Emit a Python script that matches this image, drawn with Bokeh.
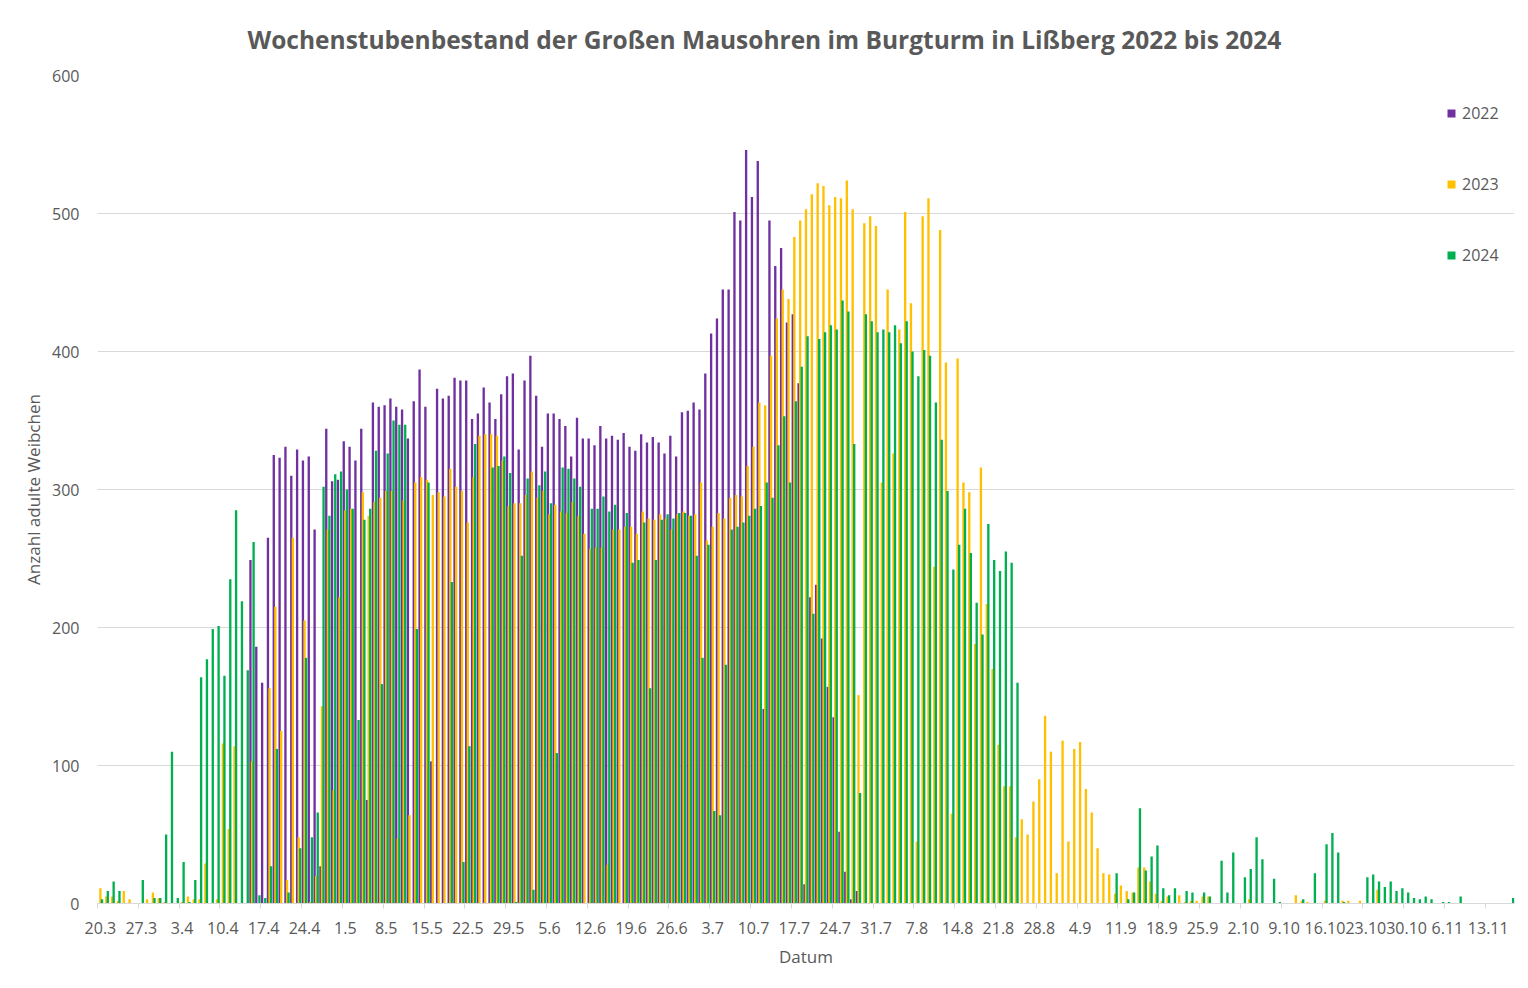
from bokeh.plotting import figure
from bokeh.models import (ColumnDataSource, Range1d, FixedTicker, Legend, LegendItem, Title)
from bokeh.embed import file_html
from bokeh.resources import INLINE

# ---------------- data (day index 0 = 20.3, one value per day) ----------------
tick_labels = ["20.3", "27.3", "3.4", "10.4", "17.4", "24.4", "1.5", "8.5", "15.5",
               "22.5", "29.5", "5.6", "12.6", "19.6", "26.6", "3.7", "10.7", "17.7",
               "24.7", "31.7", "7.8", "14.8", "21.8", "28.8", "4.9", "11.9", "18.9",
               "25.9", "2.10", "9.10", "16.10", "23.10", "30.10", "6.11", "13.11"]

n_days = 243

y2022 = [0] * 26 + [
    249, 186, 160, 265, 325, 323, 331, 310, 329, 321, 324, 271, 27, 344, 306, 307,
    335, 331, 321, 344, 75, 363, 360, 361, 366, 360, 358, 337, 364, 387, 360, 103,
    373, 366, 368, 381, 379, 379, 351, 355, 374, 363, 351, 369, 382, 384, 329, 379,
    397, 368, 331, 355, 355, 351, 346, 324, 352, 337, 337, 332, 346, 337, 339, 336,
    341, 331, 328, 340, 334, 338, 334, 326, 339, 324, 356, 357, 363, 358, 384, 413,
    424, 445, 445, 501, 495, 546, 512, 538, 141, 495, 462, 475, 421, 427, 377, 14,
    222, 231, 192, 157, 135, 52, 23, 3, 9] + [0] * 112

y2023 = [
    11, 5, 5, 2, 9, 3, 0, 0, 3, 8, 4, 1, 0, 0, 1, 5, 3, 3, 29, 0,
    3, 116, 54, 114, 0, 0, 103, 0, 0, 156, 215, 125, 17, 265, 48, 205, 1, 20, 143, 271,
    82, 222, 285, 286, 75, 298, 281, 291, 294, 299, 299, 47, 292, 64, 305, 309, 307, 296, 298, 295,
    315, 302, 299, 276, 309, 339, 340, 340, 339, 321, 288, 290, 290, 296, 313, 294, 299, 282, 289, 284,
    283, 291, 281, 268, 257, 258, 258, 28, 271, 271, 273, 273, 268, 284, 279, 278, 282, 279, 271, 282,
    284, 281, 282, 305, 263, 273, 283, 279, 294, 296, 295, 317, 331, 363, 361, 397, 424, 445, 438, 483,
    495, 503, 514, 522, 520, 506, 512, 511, 524, 503, 151, 493, 498, 491, 305, 445, 326, 416, 501, 435,
    45, 498, 511, 244, 488, 392, 65, 395, 305, 298, 188, 316, 217, 170, 115, 85, 85, 48, 61, 50,
    74, 90, 136, 110, 22, 118, 45, 112, 117, 83, 66, 40, 22, 21, 7, 13, 9, 8, 26, 26,
    16, 7, 2, 5, 0, 6, 1, 2, 2, 5, 5, 0, 0, 0, 0, 0, 0, 3, 0, 0,
    0, 0, 0, 0, 0, 6, 2, 1, 0, 0, 2, 0, 0, 2, 2, 0, 2, 0, 0, 10,
    0, 0, 1] + [0] * 20

y2024 = [
    3, 9, 16, 9, 0, 0, 0, 17, 0, 4, 4, 50, 110, 4, 30, 1, 17, 164, 177, 199,
    201, 165, 235, 285, 219, 169, 262, 6, 4, 27, 112, 0, 8, 0, 40, 178, 48, 66, 302, 281,
    311, 313, 300, 286, 133, 278, 286, 328, 159, 326, 350, 347, 347, 0, 199, 0, 305, 0, 0, 0,
    233, 0, 30, 114, 333, 0, 0, 316, 317, 324, 312, 1, 252, 308, 10, 303, 313, 290, 109, 316,
    315, 308, 302, 0, 286, 286, 295, 284, 289, 0, 283, 247, 249, 276, 156, 249, 278, 282, 279, 283,
    283, 281, 252, 178, 260, 67, 64, 173, 271, 273, 276, 281, 286, 288, 305, 294, 332, 353, 305, 364,
    389, 411, 210, 409, 414, 419, 416, 437, 429, 333, 80, 427, 422, 414, 416, 414, 419, 406, 422, 400,
    382, 401, 397, 363, 336, 299, 242, 260, 286, 254, 218, 195, 275, 249, 241, 255, 247, 160, 0, 0,
    0, 0, 0, 0, 0, 0, 0, 0, 0, 0, 0, 0, 0, 0, 22, 0, 3, 8, 69, 24,
    34, 42, 11, 6, 11, 0, 9, 8, 0, 8, 5, 0, 31, 8, 37, 0, 19, 25, 48, 32,
    0, 18, 1, 0, 0, 0, 3, 0, 22, 0, 43, 51, 37, 1, 0, 0, 0, 19, 21, 16,
    12, 16, 9, 11, 8, 4, 3, 5, 3, 0, 1, 1, 0, 5, 0, 0, 0, 0, 0, 0,
    0, 0, 4]

series_names = ["2022", "2023", "2024"]
series_values = [y2022, y2023, y2024]
colors = ["#7030A0", "#FFC000", "#00B050"]
offsets = [-0.27, 0.0, 0.27]

TXT = "#595959"
FONT = "Open Sans"

p = figure(width=1520, height=985, output_backend="svg", toolbar_location=None,
           x_range=Range1d(-0.5, n_days - 0.5), y_range=Range1d(0, 600),
           min_border_left=97, min_border_right=6, min_border_top=75, min_border_bottom=82)
p.outline_line_color = None
p.background_fill_color = "white"
p.border_fill_color = "white"

title = Title(text="Wochenstubenbestand der  Großen Mausohren im Burgturm in Lißberg 2022 bis 2024",
              align="left", offset=150,
              text_font=FONT, text_font_size="24.5px", text_font_style="bold",
              text_color=TXT, standoff=39)
p.add_layout(title, "above")

items = []
for name, vals, col, off in zip(series_names, series_values, colors, offsets):
    xs = [i + off for i, v in enumerate(vals) if v > 0]
    ys = [v for v in vals if v > 0]
    src = ColumnDataSource(data=dict(x=xs, top=ys))
    r = p.vbar(x="x", top="top", bottom=0, width=0.4, source=src,
               fill_color=col, line_color=None)
    items.append(LegendItem(label=name, renderers=[r]))

# axes
p.xaxis.ticker = FixedTicker(ticks=[i * 7 for i in range(len(tick_labels))],
                             minor_ticks=[i * 7 - 0.5 for i in range(len(tick_labels) + 1)])
p.xaxis.major_label_overrides = {i * 7: lab for i, lab in enumerate(tick_labels)}
p.xaxis.major_tick_out = 0
p.xaxis.major_tick_in = 0
p.xaxis.minor_tick_out = 5
p.xaxis.minor_tick_in = 0
p.xaxis.minor_tick_line_color = "#d9d9d9"
p.xaxis.axis_line_color = "#d9d9d9"
p.xaxis.major_label_text_font = FONT
p.xaxis.major_label_text_font_size = "16px"
p.xaxis.major_label_text_color = TXT
p.xaxis.major_label_standoff = 13
p.xaxis.axis_label = "Datum"
p.xaxis.axis_label_text_font = FONT
p.xaxis.axis_label_text_font_size = "17px"
p.xaxis.axis_label_text_font_style = "normal"
p.xaxis.axis_label_text_color = TXT
p.xaxis.axis_label_standoff = 8

p.yaxis.ticker = FixedTicker(ticks=[0, 100, 200, 300, 400, 500, 600])
p.yaxis.axis_line_color = None
p.yaxis.major_tick_line_color = None
p.yaxis.minor_tick_line_color = None
p.yaxis.major_label_text_font = FONT
p.yaxis.major_label_text_font_size = "16px"
p.yaxis.major_label_text_color = TXT
p.yaxis.major_label_standoff = 12
p.yaxis.axis_label = "Anzahl adulte Weibchen"
p.yaxis.axis_label_text_font = FONT
p.yaxis.axis_label_text_font_size = "17px"
p.yaxis.axis_label_text_font_style = "normal"
p.yaxis.axis_label_text_color = TXT
p.yaxis.axis_label_standoff = 4

p.xgrid.grid_line_color = None
p.ygrid.grid_line_color = "#d9d9d9"
p.ygrid.ticker = FixedTicker(ticks=[100, 200, 300, 400, 500, 600])

legend = Legend(items=items, location=(1349, 637), orientation="vertical",
                spacing=49, glyph_width=10, glyph_height=10, label_standoff=6,
                label_text_font=FONT, label_text_font_size="16px", label_text_color=TXT,
                padding=0, margin=0, border_line_color=None, background_fill_alpha=0,
                label_height=20)
p.add_layout(legend, "center")

with open("out.html", "w") as f:
    f.write(file_html(p, INLINE))
